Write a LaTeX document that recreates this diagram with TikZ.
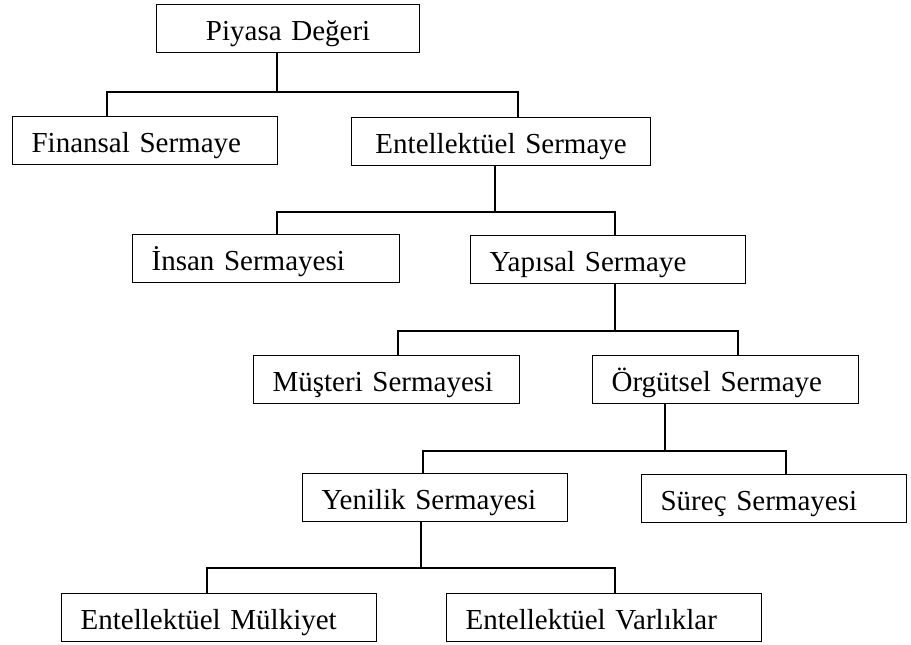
\documentclass[tikz,border=0pt]{standalone}
\usepackage{fontspec}
\setmainfont{Liberation Serif}
\usepackage{tikz}

\begin{document}
\begin{tikzpicture}[x=1bp, y=-1bp, line width=1.2bp,
  box/.style={draw, anchor=north west, minimum height=48bp, inner xsep=19bp,
    inner ysep=0pt, text width=#1, align=left, text height=25bp, text depth=2bp,
    font=\fontsize{29bp}{34bp}\selectfont}]
\useasboundingbox (0,0) rectangle (911,645);
% boxes, one row per level
\node[box=225bp, align=center] (piyasa) at (156,4) {Piyasa Değeri};
\node[box=227bp] (finansal) at (12,116) {Finansal Sermaye};
\node[box=261bp, align=center] (entel) at (351,117) {Entellektüel Sermaye};
\node[box=229bp] (insan) at (132,234) {İnsan Sermayesi};
\node[box=237bp] (yapisal) at (470,235) {Yapısal Sermaye};
\node[box=228bp] (musteri) at (253,355) {Müşteri Sermayesi};
\node[box=228bp] (orgutsel) at (592,355) {Örgütsel Sermaye};
\node[box=227bp] (yenilik) at (302,473) {Yenilik Sermayesi};
\node[box=227bp] (surec) at (641,474) {Süreç Sermayesi};
\node[box=277bp] (mulkiyet) at (61,593) {Entellektüel Mülkiyet};
\node[box=277bp] (varlik) at (446,593) {Entellektüel Varlıklar};
% junctions
\coordinate (j1) at (277,92);  \coordinate (j1a) at (107,92);  \coordinate (j1b) at (518,92);
\coordinate (j2) at (495,212); \coordinate (j2a) at (277,212); \coordinate (j2b) at (615,212);
\coordinate (j3) at (615,331); \coordinate (j3a) at (398,331); \coordinate (j3b) at (738,331);
\coordinate (j4) at (665,451); \coordinate (j4a) at (423,451); \coordinate (j4b) at (786,451);
\coordinate (j5) at (421,568); \coordinate (j5a) at (207,568); \coordinate (j5b) at (615,568);
% connectors
\draw (j1 |- piyasa.south) -- (j1);
\draw (j1a |- finansal.north) -- (j1a) -- (j1b) -- (j1b |- entel.north);
\draw (j2 |- entel.south) -- (j2);
\draw (j2a |- insan.north) -- (j2a) -- (j2b) -- (j2b |- yapisal.north);
\draw (j3 |- yapisal.south) -- (j3);
\draw (j3a |- musteri.north) -- (j3a) -- (j3b) -- (j3b |- orgutsel.north);
\draw (j4 |- orgutsel.south) -- (j4);
\draw (j4a |- yenilik.north) -- (j4a) -- (j4b) -- (j4b |- surec.north);
\draw (j5 |- yenilik.south) -- (j5);
\draw (j5a |- mulkiyet.north) -- (j5a) -- (j5b) -- (j5b |- varlik.north);
\end{tikzpicture}
\end{document}
